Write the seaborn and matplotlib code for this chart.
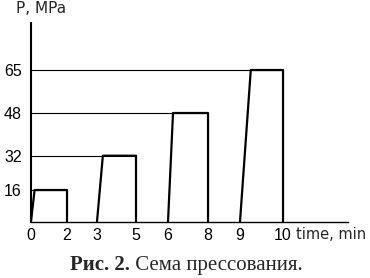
import numpy as np
import pandas as pd
import seaborn as sns
import matplotlib.pyplot as plt

# pressing cycles: start of ramp, top of ramp, end of hold, pressure level
cycle_start = [0, 3, 6, 9]
ramp_end = [0.2, 3.3, 6.25, 9.25]
hold_end = [2, 5, 8, 10]
pressure = [16, 32, 48, 65]

x_ticks = [0, 2, 3, 5, 6, 8, 9, 10]
y_ticks = [16, 32, 48, 65]

# the drawing is schematic, not to scale: calibrate the axes piecewise
x_knots = [0, 2, 3, 5, 6, 8, 9, 10, 11.5]
x_frac = [0, 0.1136, 0.2082, 0.3312, 0.4322, 0.5584, 0.6593, 0.7950, 1.0]
y_knots = [0, 16, 32, 48, 65, 84]
y_frac = [0, 0.1587, 0.3315, 0.5466, 0.7632, 1.0]

rows = []
for i in range(len(pressure)):
    for t, p in [(cycle_start[i], 0), (ramp_end[i], pressure[i]),
                 (hold_end[i], pressure[i]), (hold_end[i], 0)]:
        rows.append({'cycle': i, 'time': t, 'P': p})
df = pd.DataFrame(rows)

sns.set_style('white')
plt.rcParams['font.family'] = ['Liberation Sans', 'DejaVu Sans']

fig = plt.figure(figsize=(3.7, 2.78), dpi=100)
ax = fig.add_axes([0.0838, 0.2032, 0.8568, 0.714])

ax.set_xscale('function', functions=(lambda t: np.interp(t, x_knots, x_frac),
                                      lambda f: np.interp(f, x_frac, x_knots)))
ax.set_yscale('function', functions=(lambda v: np.interp(v, y_knots, y_frac),
                                      lambda f: np.interp(f, y_frac, y_knots)))

# thin guide lines from the P axis to each level
ax.hlines(pressure, 0, hold_end, color='black', lw=0.8)

sns.lineplot(data=df, x='time', y='P', units='cycle', estimator=None,
             sort=False, color='black', lw=1.6, ax=ax)

ax.set_xlim(0, 11.5)
ax.set_ylim(0, 84)
ax.set_xticks(x_ticks)
ax.set_xticklabels([str(v) for v in x_ticks])
ax.set_yticks(y_ticks)
ax.set_yticklabels([str(v) for v in y_ticks])
ax.minorticks_off()
ax.tick_params(axis='both', length=0, labelsize=11.5, colors='black')
ax.tick_params(axis='x', pad=5)
ax.tick_params(axis='y', pad=6.5)
ax.set_xlabel('')
ax.set_ylabel('')

for s in ['top', 'right']:
    ax.spines[s].set_visible(False)
ax.spines['left'].set_color('black')
ax.spines['left'].set_linewidth(1.5)
ax.spines['bottom'].set_color('black')
ax.spines['bottom'].set_linewidth(1.0)

fig.text(16 / 370, 1 - 13 / 278, 'P, MPa', fontsize=11, family='DejaVu Sans',
         ha='left', va='baseline')
fig.text(296 / 370, 1 - 239 / 278, 'time, min', fontsize=10.5, family='DejaVu Sans',
         ha='left', va='baseline')

cap = fig.text(70 / 370, 1 - 270 / 278, 'Рис. 2.', fontsize=15, fontweight='bold',
               family=['Liberation Serif', 'DejaVu Serif'], ha='left', va='baseline')
ax.annotate(' Сема прессования.', xy=(1, 0), xycoords=cap, fontsize=15,
            family=['Liberation Serif', 'DejaVu Serif'], ha='left', va='bottom',
            annotation_clip=False)

plt.savefig('out.png', dpi=100)
